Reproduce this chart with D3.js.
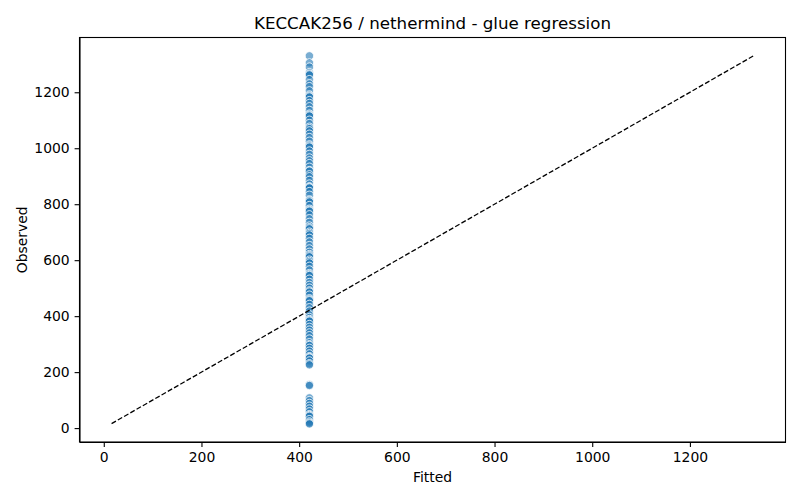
<!DOCTYPE html>
<html lang="en">
<head>
    <meta charset="UTF-8">
    <title>KECCAK256 / nethermind - glue regression</title>
    <script src="https://d3js.org/d3.v7.min.js"></script>
    <style>
        body { margin: 0; background: #fff; }
        text { font-family: "DejaVu Sans", sans-serif; fill: #000; }
        .axis path, .axis line { stroke: #000; stroke-width: 1.1; }
        .axis text { font-size: 13.9px; }
        .dot { fill: #1f77b4; fill-opacity: 0.6; stroke: #fff; stroke-width: 0.8; }
    </style>
</head>
<body>
    <script>
        // Observed values (all share the same fitted value)
        const fittedValue = 421;
        const observed = [
            1330, 1305, 1290, 1270, 1265, 1262, 1245, 1230, 1220, 1205,
            1190, 1186, 1183, 1170, 1160, 1148, 1135, 1122, 1118, 1115,
            1100, 1088, 1075, 1070, 1062, 1050, 1038, 1025, 1012, 1008,
            1004, 990, 978, 965, 955, 945, 932, 920, 918, 905,
            898, 885, 872, 862, 860, 858, 845, 832, 815, 812,
            808, 795, 782, 778, 775, 762, 748, 735, 722, 716,
            712, 700, 695, 690, 678, 665, 652, 640, 628, 620,
            616, 612, 600, 595, 590, 578, 565, 552, 548, 545,
            532, 520, 510, 500, 490, 486, 475, 462, 458, 455,
            442, 430, 418, 405, 395, 388, 385, 382, 370, 360,
            350, 340, 330, 318, 305, 298, 295, 285, 275, 265,
            255, 252, 250, 240, 230, 226,
            155, 152,
            108, 98, 88, 78, 68, 58, 48, 45, 42, 30, 22, 18, 15
        ];
        const xTicks = [0, 200, 400, 600, 800, 1000, 1200];
        const yTicks = [0, 200, 400, 600, 800, 1000, 1200];
        const lineMin = 16, lineMax = 1330;

        const W = 800, H = 500;
        const margin = {top: 37.5, right: 14.5, bottom: 58, left: 79.5};
        const width = W - margin.left - margin.right;
        const height = H - margin.top - margin.bottom;

        const svg = d3.select("body")
            .append("svg")
            .attr("width", W)
            .attr("height", H);

        const g = svg.append("g")
            .attr("transform", `translate(${margin.left},${margin.top})`);

        // 5% padding like matplotlib
        const pad = (lineMax - lineMin) * 0.05;
        const x = d3.scaleLinear()
            .domain([lineMin - pad, lineMax + pad])
            .range([0, width]);
        const y = d3.scaleLinear()
            .domain([lineMin - pad, lineMax + pad])
            .range([height, 0]);

        // Axes
        g.append("g")
            .attr("class", "axis")
            .attr("transform", `translate(0,${height})`)
            .call(d3.axisBottom(x).tickValues(xTicks).tickFormat(d3.format("d"))
                .tickSize(4.9).tickPadding(4.9).tickSizeOuter(0));

        g.append("g")
            .attr("class", "axis")
            .call(d3.axisLeft(y).tickValues(yTicks).tickFormat(d3.format("d"))
                .tickSize(4.9).tickPadding(4.9).tickSizeOuter(0));

        // Frame
        g.append("rect")
            .attr("width", width)
            .attr("height", height)
            .attr("fill", "none")
            .attr("stroke", "#000")
            .attr("stroke-width", 1.1);

        // Points
        g.selectAll(".dot")
            .data(observed)
            .enter()
            .append("circle")
            .attr("class", "dot")
            .attr("cx", x(fittedValue))
            .attr("cy", d => y(d))
            .attr("r", 4.2);

        // y = x reference line
        g.append("line")
            .attr("x1", x(lineMin))
            .attr("y1", y(lineMin))
            .attr("x2", x(lineMax))
            .attr("y2", y(lineMax))
            .attr("stroke", "#000")
            .attr("stroke-width", 1.3)
            .attr("stroke-dasharray", "5,2.2");

        // Title and labels
        svg.append("text")
            .attr("x", margin.left + width / 2)
            .attr("y", 29)
            .attr("text-anchor", "middle")
            .style("font-size", "16.7px")
            .text("KECCAK256 / nethermind - glue regression");

        svg.append("text")
            .attr("x", margin.left + width / 2)
            .attr("y", 482)
            .attr("text-anchor", "middle")
            .style("font-size", "13.9px")
            .text("Fitted");

        svg.append("text")
            .attr("transform", `translate(27,${margin.top + height / 2}) rotate(-90)`)
            .attr("text-anchor", "middle")
            .style("font-size", "13.9px")
            .text("Observed");
    </script>
</body>
</html>
